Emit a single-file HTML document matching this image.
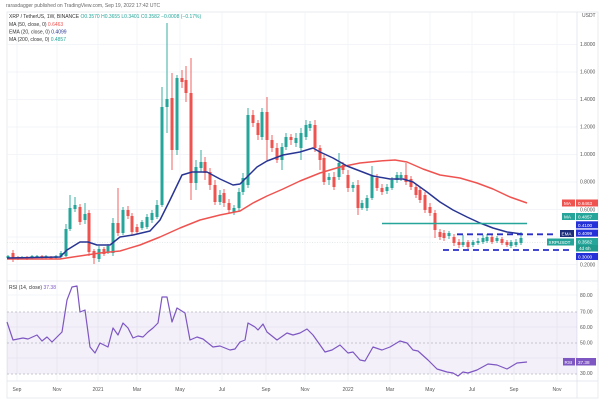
<!DOCTYPE html>
<html><head><meta charset="utf-8"><style>
html,body{margin:0;padding:0;background:#fff;width:600px;height:400px;overflow:hidden}
svg{display:block}
text{font-family:"Liberation Sans",sans-serif}
</style></head><body>
<svg width="600" height="400" viewBox="0 0 600 400" xmlns="http://www.w3.org/2000/svg">
<rect width="600" height="400" fill="#fff"/>
<text x="6" y="7" font-size="5" fill="#666">rarasdagger published on TradingView.com, Sep 19, 2022 17:42 UTC</text>
<rect x="7" y="12" width="591" height="386" fill="none" stroke="#e3e6ec" stroke-width="0.8"/>
<!-- grid -->
<g stroke="#f0f2f6" stroke-width="0.8">
<path d="M7 44.5H577M7 72H577M7 99.5H577M7 127H577M7 154.5H577M7 182H577M7 209.5H577M7 237H577M7 264.5H577"/>
<path d="M17 12V381M57 12V381M98 12V381M137 12V381M180 12V381M222 12V381M266 12V381M305 12V381M348 12V381M390 12V381M430 12V381M472 12V381M514 12V381M557 12V381"/>
<path d="M7 295H577M7 327H577M7 358H577"/>
</g>
<path d="M577 12V398M7 281H598M7 381H598" stroke="#e0e3eb" stroke-width="0.8"/>
<!-- price line -->
<path d="M7 242.5H577" stroke="#c8d6d4" stroke-width="0.6" stroke-dasharray="1,1.5"/>
<!-- candles green wicks -->
<path stroke="#26a69a" stroke-width="0.9" fill="none" d="M8 255V259M22 256V259M32 255V259M37 255V258M46 255V259M56 255V259M61 251V259M66 224V257M70 195V231M75 197V212M85 203V224M99 246V262M108 244V254M113 218V256M123 207V235M142 220V230M147 214V229M152 210V223M157 200V219M162 87V207M167 23V133M177 75V155M196 160V190M201 150V172M220 190V205M234 205V215M239 188V211M243 173V195M248 108V188M262 108V140M282 143V170M286 133V150M296 133V147M301 128V160M306 120V140M310 121V131M329 173V185M339 153V180M353 182V192M362 200V210M367 195V211M372 166V200M387 184V194M392 177V190M397 172V183M401 172V181M449 231V239M463 235V247M473 240V247M478 238V245M483 235V244M487 234V243M497 236V243M511 240V248M516 239V247M521 232V245"/>
<path stroke="#26a69a" stroke-width="3" fill="none" d="M8 256V258M22 257V258.5M32 256V258M37 256V257.5M46 256V258M56 256V258M61 253V257M66 229V256M70 208V229M75 205V209M85 214V220M99 249V259M108 246V252M113 223V253M123 210V233M142 222V228M147 217V227M152 213V220M157 205V217M162 107V205M167 99V107M177 78V150M196 167V183M201 162V168M220 195V202M234 208V212M239 192V208M243 178V192M248 115V185M262 112V137M282 147V160M286 137V147M296 138V143M301 133V148M306 125V137M310 124V128M329 177V180M339 163V177M353 185V188M362 203V208M367 198V208M372 175V198M387 187V191M392 180V188M397 175V180M401 175V178M449 233V236M463 242V245M473 242V245M478 241V243M483 238V242M487 237V241M497 238V241M511 242V246M516 242V245M521 238V243"/>
<!-- candles red -->
<path stroke="#ef5350" stroke-width="0.9" fill="none" d="M13 250V262M18 256V260M27 256V260M42 255V259M51 256V259M80 204V225M89 210V256M94 249V264M104 247V256M118 188V236M128 206V219M132 213V236M137 224V234M172 73V170M182 70V88M186 66V102M191 58V200M205 157V180M210 168V190M215 180V205M224 189V207M229 199V213M253 110V127M258 120V140M267 97V160M272 135V152M277 143V163M291 134V145M315 120V152M320 145V170M324 155V185M334 172V190M343 162V174M348 170V192M358 180V215M377 174V191M382 184V195M406 163V185M411 176V190M416 184V198M420 187V203M425 192V213M430 203V216M435 210V238M440 229V240M444 230V241M454 234V246M459 239V248M468 240V249M492 235V244M502 237V245M507 240V247"/>
<path stroke="#ef5350" stroke-width="3" fill="none" d="M13 253V259M18 257V259M27 257V259M42 256V258M51 257V258.5M80 207V222M89 213V252M94 251V258M104 249V254M118 223V233M128 210V216M132 216V232M137 227V232M172 98V150M182 78V82M186 80V93M191 93V183M205 162V173M210 172V185M215 185V202M224 193V203M229 203V210M253 115V123M258 123V135M267 112V140M272 140V148M277 148V160M291 137V140M315 125V148M320 148V160M324 158V182M334 177V187M343 165V170M348 175V188M358 185V208M377 178V188M382 188V192M406 175V182M411 179V187M416 187V195M420 190V200M425 195V210M430 207V213M435 213V230M440 232V237M444 233V238M454 237V243M459 242V245M468 242V247M492 237V242M502 239V243M507 242V245"/>
<!-- MA50 red -->
<polyline fill="none" stroke="#ef5350" stroke-width="1.5" stroke-linejoin="round" points="7,259 60,259 73,257 100,253 120,251 140,245 160,237 180,228 200,220 220,215 240,211 253,203 267,196 283,189 300,181 320,173 340,167 360,163 380,161 395,160 407,162 423,169 440,175 460,178 477,183 493,189 510,197 527,203"/>
<!-- EMA20 navy -->
<polyline fill="none" stroke="#283593" stroke-width="1.5" stroke-linejoin="round" points="7,258 60,257 67,250 80,242 88,242 97,245 110,245 120,237 133,235 150,231 160,220 170,200 182,175 192,172 207,172 220,179 233,185 240,184 247,177 257,167 267,161 283,155 300,152 313,148 320,152 333,158 347,166 360,171 373,176 390,179 403,179 413,182 427,192 440,202 453,210 467,217 480,223 493,228 507,232 522,234"/>
<!-- MA200 green -->
<path d="M382 223.5H527" stroke="#26a69a" stroke-width="1.5"/>
<!-- dashed levels -->
<path d="M457 234.3H557" stroke="#2a2fc8" stroke-width="1.8" stroke-dasharray="6,4"/>
<path d="M443 250H573" stroke="#2a2fc8" stroke-width="1.8" stroke-dasharray="6,4"/>
<!-- legend -->
<g font-size="5">
<text x="9" y="18" fill="#333">XRP / TetherUS, 1W, BINANCE <tspan fill="#26a69a">O0.3570 H0.3655 L0.3401 C0.3582 −0.0008 (−0.17%)</tspan></text>
<text x="9" y="26" fill="#333">MA (50, close, 0) <tspan fill="#ef5350">0.6463</tspan></text>
<text x="9" y="33.5" fill="#333">EMA (20, close, 0) <tspan fill="#283593">0.4099</tspan></text>
<text x="9" y="41" fill="#333">MA (200, close, 0) <tspan fill="#26a69a">0.4857</tspan></text>
</g>
<!-- price axis -->
<g font-size="5" fill="#555">
<text x="582" y="17">USDT</text>
<text x="580" y="46">1.8000</text>
<text x="580" y="73.5">1.6000</text>
<text x="580" y="101">1.4000</text>
<text x="580" y="128.5">1.2000</text>
<text x="580" y="156">1.0000</text>
<text x="580" y="183.5">0.8000</text>
<text x="580" y="211.5">0.6000</text>
<text x="580" y="266.5">0.2000</text>
</g>
<g font-size="4.6" fill="#fff">
<rect x="562" y="199.5" width="13" height="7" fill="#ef5350"/><text x="564" y="205">MA</text>
<rect x="576" y="199.5" width="22" height="7" fill="#ef5350"/><text x="578" y="205">0.6463</text>
<rect x="562" y="213" width="13" height="7" fill="#26a69a"/><text x="564" y="218.5">MA</text>
<rect x="576" y="213" width="22" height="7" fill="#26a69a"/><text x="578" y="218.5">0.4857</text>
<rect x="576" y="221.3" width="22" height="7" fill="#2430d8"/><text x="578" y="226.8">0.4100</text>
<rect x="560" y="230" width="14" height="7" fill="#1c2d7a"/><text x="561.5" y="235.5">EMA</text>
<rect x="576" y="229.6" width="22" height="7" fill="#2430d8"/><text x="578" y="235.1">0.4099</text>
<rect x="547" y="238.5" width="27" height="7" fill="#26a69a"/><text x="548.5" y="244">XRPUSDT</text>
<rect x="576" y="238" width="22" height="7" fill="#26a69a"/><text x="578" y="243.5">0.3582</text>
<rect x="576" y="245" width="22" height="6.5" fill="#1f9a8c"/><text x="579" y="250">4d 6h</text>
<rect x="576" y="253" width="22" height="7" fill="#2430d8"/><text x="578" y="258.5">0.3000</text>
</g>
<!-- RSI pane -->
<rect x="7" y="312" width="570" height="62" fill="#7e57c2" fill-opacity="0.09"/>
<path d="M7 312H577M7 343H577M7 374H577" stroke="#b8b8c4" stroke-width="0.7" stroke-dasharray="2,2"/>
<text x="9" y="289" font-size="5" fill="#333">RSI (14, close) <tspan fill="#7e57c2">37.38</tspan></text>
<polyline fill="none" stroke="#7e57c2" stroke-width="1.2" stroke-linejoin="round" points="7,322 13,340 23,338 28,339 37,335 42,341 47,337 52,342 62,332 67,300 72,287 77,286 80,312 85,310 90,347 95,353 100,343 108,347 113,328 118,335 123,323 128,328 133,338 138,336 143,337 148,332 153,328 158,323 162,297 167,297 172,322 177,308 185,313 190,340 197,337 203,339 213,347 220,346 230,350 235,349 240,342 245,340 248,323 255,327 258,330 263,324 267,332 277,340 287,333 293,335 300,333 307,329 313,335 325,352 332,350 340,345 348,353 353,352 360,360 365,361 373,347 382,350 390,347 400,341 407,343 413,350 418,351 428,360 437,369 447,372 453,373 458,376 463,372 468,373 477,370 488,364 497,365 507,369 517,363 527,362"/>
<g font-size="5" fill="#555">
<text x="580" y="297">80.00</text>
<text x="580" y="313.5">70.00</text>
<text x="580" y="329">60.00</text>
<text x="580" y="344.5">50.00</text>
<text x="580" y="375">30.00</text>
</g>
<rect x="563" y="358" width="12" height="7.5" fill="#7e57c2"/>
<rect x="576" y="358" width="20" height="7.5" fill="#7e57c2"/>
<text x="564.5" y="363.8" font-size="4.6" fill="#fff">RSI</text>
<text x="578" y="363.8" font-size="4.6" fill="#fff">37.38</text>
<!-- time axis -->
<g font-size="5" fill="#555" text-anchor="middle">
<text x="17" y="391">Sep</text>
<text x="57" y="391">Nov</text>
<text x="98" y="391">2021</text>
<text x="137" y="391">Mar</text>
<text x="180" y="391">May</text>
<text x="222" y="391">Jul</text>
<text x="266" y="391">Sep</text>
<text x="305" y="391">Nov</text>
<text x="348" y="391">2022</text>
<text x="390" y="391">Mar</text>
<text x="430" y="391">May</text>
<text x="472" y="391">Jul</text>
<text x="514" y="391">Sep</text>
<text x="557" y="391">Nov</text>
</g>
</svg>
</body></html>
